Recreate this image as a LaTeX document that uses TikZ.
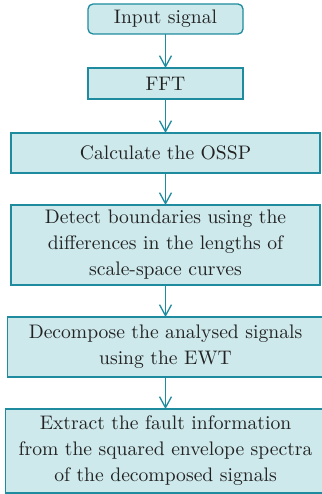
\documentclass[tikz,border=0pt]{standalone}
\usepackage{fontspec}
\setmainfont{lmroman10-regular}[Extension=.otf]
\usetikzlibrary{positioning,arrows.meta}
\definecolor{boxfill}{HTML}{CDE9EC}
\definecolor{boxline}{HTML}{1E8C9E}
\definecolor{boxtext}{HTML}{222222}
\begin{document}
\begin{tikzpicture}[x=1pt, y=1pt,
    stepbox/.style={draw=boxline, fill=boxfill, line width=1.3pt, text=boxtext,
      align=center, inner sep=2pt, outer sep=0pt,
      font=\fontsize{19.6}{26}\selectfont},
    flow/.style={boxline, line width=1.3pt, -{Straight Barb[length=11pt, width=12pt, line width=1.3pt]}}]
        \useasboundingbox (0,0) rectangle (321,-494);
        % Boxes
        \node[stepbox, rounded corners=5pt, minimum width=155pt, minimum height=30pt] (input) at (165.5,-19) {Input signal};
        \node[stepbox, minimum width=155pt, minimum height=31pt, below=34pt of input] (fft) {FFT};
        \node[stepbox, minimum width=309pt, minimum height=40pt, below=34pt of fft] (ossp) {Calculate the OSSP};
        \node[stepbox, minimum width=309pt, minimum height=80pt, below=32pt of ossp] (detect)
          {Detect boundaries using the\\ differences in the lengths of\\ scale-space curves};
        \node[stepbox, minimum width=316pt, minimum height=60pt, below=32pt of detect] (decomp)
          {Decompose the analysed signals\\ using the EWT};
        \node[stepbox, minimum width=320pt, minimum height=84pt, below=32pt of decomp] (extract)
          {Extract the fault information\\ from the squared envelope spectra\\ of the decomposed signals};
        % Arrows
        \draw[flow] (input) -- (fft);
        \draw[flow] (fft) -- (ossp);
        \draw[flow] (ossp) -- (detect);
        \draw[flow] (detect) -- (decomp);
        \draw[flow] (decomp) -- (extract);
      \end{tikzpicture}
\end{document}
